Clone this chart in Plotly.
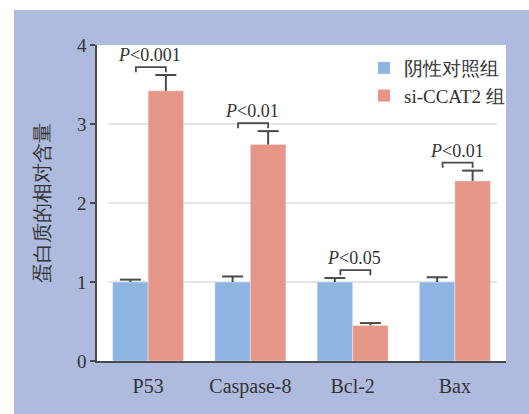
import plotly.graph_objects as go

categories = ["P53", "Caspase-8", "Bcl-2", "Bax"]
series_names = ["阴性对照组", "si-CCAT2 组"]
control_vals = [1.0, 1.0, 1.0, 1.0]
control_err = [0.03, 0.07, 0.05, 0.06]
sicc_vals = [3.42, 2.74, 0.45, 2.28]
sicc_err = [0.20, 0.17, 0.03, 0.13]
p_labels = ["P<0.001", "P<0.01", "P<0.05", "P<0.01"]
y_ticks = [0, 1, 2, 3, 4]

BLUE = "#8DB4E2"
RED = "#E59686"
LAV = "#AEBBDF"
DARK = "#4a4a4a"
TXT = "#333333"
FONT = "Liberation Serif"

W, H = 529, 414
ML, MR, MT, MB = 97, 23, 45, 53
PW, PH = W - ML - MR, H - MT - MB
BARGAP = 0.306
bw = (1 - BARGAP) / 2


def px_x(px):
    return (px - ML) / PW


def px_y(py):
    return (H - MB - py) / PH


xs = list(range(len(categories)))
fig = go.Figure()
fig.add_trace(go.Bar(x=xs, y=control_vals, marker_color=BLUE, name=series_names[0],
                     showlegend=False))
fig.add_trace(go.Bar(x=xs, y=sicc_vals, marker_color=RED, name=series_names[1],
                     showlegend=False))

# error bars (upper half only)
for vals, errs, off in [(control_vals, control_err, -bw / 2), (sicc_vals, sicc_err, bw / 2)]:
    fig.add_trace(go.Scatter(
        x=[i + off for i in xs], y=[v + e for v, e in zip(vals, errs)],
        mode="markers",
        marker=dict(symbol="line-ew", size=15, line=dict(width=2, color=DARK)),
        error_y=dict(type="data", symmetric=False, array=[0] * len(errs), arrayminus=errs,
                     width=0, thickness=2, color=DARK),
        showlegend=False, hoverinfo="skip"))

# legend entries
for nm, col in zip(series_names, [BLUE, RED]):
    fig.add_trace(go.Scatter(x=[None], y=[None], mode="markers", name=nm,
                             marker=dict(symbol="square", size=15, color=col)))

shapes = [
    dict(type="rect", xref="paper", yref="paper", x0=px_x(14), x1=px_x(W + 5),
         y0=px_y(H + 5), y1=px_y(10), fillcolor=LAV, line=dict(width=0), layer="below"),
    dict(type="rect", xref="paper", yref="paper", x0=0, x1=1, y0=0, y1=1,
         fillcolor="white", line=dict(width=0), layer="below"),
]
for t in y_ticks[1:-1]:
    shapes.append(dict(type="line", xref="paper", yref="y", x0=px_x(108), x1=px_x(497),
                       y0=t, y1=t, line=dict(color="#DCDCDC", width=1.5), layer="below"))

annotations = []
for i, (cv, ce, sv, se, lab) in enumerate(zip(control_vals, control_err, sicc_vals, sicc_err, p_labels)):
    lvl = max(cv + ce, sv + se) + 0.1
    x0, x1 = i - 0.12, i + bw / 2
    shapes.append(dict(type="path", xref="x", yref="y",
                       path=f"M {x0},{lvl - 0.065} L {x0},{lvl} L {x1},{lvl} L {x1},{lvl - 0.065}",
                       line=dict(color=DARK, width=1.8)))
    annotations.append(dict(x=(x0 + x1) / 2 - 0.01, y=lvl, xref="x", yref="y",
                            text="<i>P</i>" + lab[1:].replace("<", "&lt;"),
                            showarrow=False, yanchor="bottom", yshift=0,
                            font=dict(family=FONT, size=18, color=TXT)))

fig.update_layout(
    width=W, height=H,
    margin=dict(l=ML, r=MR, t=MT, b=MB),
    paper_bgcolor="white", plot_bgcolor="rgba(0,0,0,0)",
    barmode="group", bargap=BARGAP, bargroupgap=0,
    font=dict(family=FONT, color=TXT),
    shapes=shapes, annotations=annotations,
    legend=dict(x=px_x(364), y=px_y(49), xanchor="left", yanchor="top",
                bgcolor="rgba(0,0,0,0)", font=dict(family=FONT, size=19, color=TXT),
                tracegroupgap=0, itemsizing="constant"),
    xaxis=dict(range=[-0.5, len(categories) - 0.5], tickvals=xs, ticktext=categories,
               showline=True, linecolor=DARK, linewidth=1.5, ticks="", showgrid=False,
               zeroline=False, tickfont=dict(family=FONT, size=20, color=TXT),
               ticklabelstandoff=6, fixedrange=True),
    yaxis=dict(range=[0, 4], tickvals=y_ticks, showline=True, linecolor=DARK, linewidth=1.5,
               ticks="outside", ticklen=5, tickwidth=1.5, tickcolor=DARK, showgrid=False,
               zeroline=False, tickfont=dict(family=FONT, size=19, color=TXT),
               title=dict(text="蛋白质的相对含量", standoff=22,
                          font=dict(family=FONT, size=20, color=TXT)),
               fixedrange=True),
)

fig.write_html("out.html")
